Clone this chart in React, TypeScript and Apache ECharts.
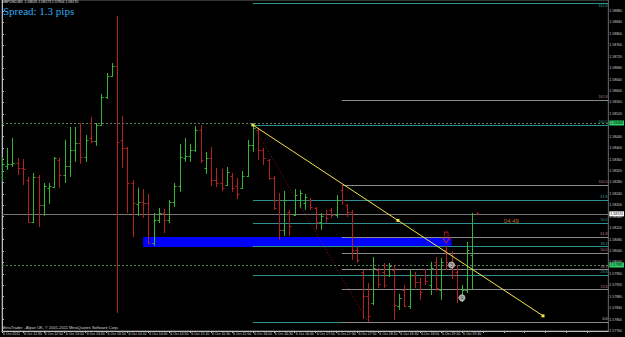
import React, { useEffect, useRef } from "react";
import * as echarts from "echarts";

// ---- data ----
const headerText = "GBPUSD,M5  1.58026 1.58173 1.57904 1.58170";
const spreadText = "Spread: 1.3 pips";
const copyrightText = "MetaTrader - Alpari UK, \u00a9 2001-2011 MetaQuotes Software Corp.";

// one label every 4 bars (M5 -> 20 minutes)
const timeLabels = [
  "6 Oct 2011", "6 Oct 12:30", "6 Oct 12:50", "6 Oct 13:10", "6 Oct 13:30", "6 Oct 13:50",
  "6 Oct 14:10", "6 Oct 14:30", "6 Oct 14:50", "6 Oct 15:10", "6 Oct 15:30", "6 Oct 15:50",
  "6 Oct 16:10", "6 Oct 16:30", "6 Oct 16:50", "6 Oct 17:10", "6 Oct 17:30", "6 Oct 17:50",
  "6 Oct 18:10", "6 Oct 18:30", "6 Oct 18:50", "6 Oct 19:10", "6 Oct 19:30",
];

const opens = [
  1.58306, 1.58338, 1.58345, 1.58348, 1.58331, 1.58289, 1.58142, 1.58299, 1.58201, 1.58261,
  1.58264, 1.58359, 1.58306, 1.58338, 1.58394, 1.58418, 1.58369, 1.58436, 1.58425, 1.58481,
  1.58579, 1.58653, 1.58688, 1.58429, 1.58401, 1.58278, 1.58205, 1.58212, 1.58208, 1.58068,
  1.58149, 1.58173, 1.58149, 1.58212, 1.58268, 1.58366, 1.58373, 1.58394, 1.58464, 1.58331,
  1.58366, 1.58289, 1.58278, 1.58271, 1.58303, 1.58268, 1.58261, 1.58303, 1.58411, 1.58464,
  1.58394, 1.58359, 1.58296, 1.58219, 1.58114, 1.58177, 1.58166, 1.58219, 1.58208, 1.58219,
  1.58191, 1.58142, 1.58170, 1.58184, 1.58166, 1.58254, 1.58201, 1.58177, 1.58044, 1.57967,
  1.57883, 1.57858, 1.57974, 1.57967, 1.57956, 1.57974, 1.57848, 1.57904, 1.57848, 1.57956,
  1.57932, 1.57956, 1.57921, 1.58002, 1.57904, 1.58044, 1.58002, 1.57967, 1.57869, 1.57904,
  1.58026,
];
const highs = [
  1.58369, 1.58401, 1.58436, 1.58366, 1.58362, 1.58299, 1.58313, 1.58306, 1.58278, 1.58278,
  1.58369, 1.58366, 1.58429, 1.58474, 1.58474, 1.58488, 1.58446, 1.58509, 1.58488, 1.58590,
  1.58663, 1.58698, 1.58863, 1.58513, 1.58404, 1.58289, 1.58261, 1.58257, 1.58240, 1.58173,
  1.58191, 1.58187, 1.58219, 1.58278, 1.58415, 1.58436, 1.58415, 1.58478, 1.58481, 1.58387,
  1.58404, 1.58331, 1.58327, 1.58334, 1.58313, 1.58296, 1.58320, 1.58429, 1.58481, 1.58471,
  1.58401, 1.58362, 1.58303, 1.58243, 1.58250, 1.58184, 1.58257, 1.58254, 1.58240, 1.58226,
  1.58194, 1.58173, 1.58184, 1.58191, 1.58236, 1.58271, 1.58205, 1.58184, 1.58054, 1.57974,
  1.57928, 1.58019, 1.57981, 1.57998, 1.57998, 1.57988, 1.57890, 1.57921, 1.57977, 1.57967,
  1.57946, 1.57977, 1.58002, 1.58019, 1.58016, 1.58058, 1.58040, 1.57991, 1.57921, 1.58072,
  1.58173,
];
const lows = [
  1.58282, 1.58324, 1.58334, 1.58306, 1.58271, 1.58138, 1.58138, 1.58124, 1.58163, 1.58205,
  1.58261, 1.58261, 1.58278, 1.58299, 1.58352, 1.58345, 1.58352, 1.58418, 1.58408, 1.58478,
  1.58572, 1.58649, 1.57823, 1.58331, 1.58173, 1.58089, 1.58163, 1.58156, 1.58065, 1.58058,
  1.58138, 1.58103, 1.58138, 1.58194, 1.58247, 1.58352, 1.58352, 1.58387, 1.58348, 1.58310,
  1.58268, 1.58264, 1.58250, 1.58268, 1.58247, 1.58222, 1.58257, 1.58299, 1.58387, 1.58359,
  1.58341, 1.58289, 1.58184, 1.58079, 1.58093, 1.58093, 1.58163, 1.58191, 1.58184, 1.58184,
  1.58114, 1.58114, 1.58138, 1.58156, 1.58156, 1.58201, 1.58159, 1.58009, 1.57998, 1.57802,
  1.57792, 1.57851, 1.57911, 1.57911, 1.57949, 1.57799, 1.57834, 1.57844, 1.57837, 1.57911,
  1.57869, 1.57921, 1.57886, 1.57900, 1.57869, 1.57974, 1.57942, 1.57858, 1.57862, 1.57893,
  1.57904,
];
const closes = [
  1.58345, 1.58345, 1.58348, 1.58331, 1.58327, 1.58142, 1.58299, 1.58201, 1.58268, 1.58268,
  1.58366, 1.58306, 1.58338, 1.58394, 1.58418, 1.58369, 1.58429, 1.58425, 1.58481, 1.58579,
  1.58653, 1.58688, 1.58422, 1.58401, 1.58278, 1.58208, 1.58212, 1.58208, 1.58068, 1.58149,
  1.58173, 1.58149, 1.58212, 1.58268, 1.58369, 1.58373, 1.58394, 1.58464, 1.58359, 1.58366,
  1.58289, 1.58278, 1.58261, 1.58317, 1.58261, 1.58240, 1.58303, 1.58411, 1.58471, 1.58394,
  1.58366, 1.58296, 1.58191, 1.58114, 1.58219, 1.58128, 1.58236, 1.58243, 1.58229, 1.58194,
  1.58142, 1.58163, 1.58156, 1.58166, 1.58219, 1.58219, 1.58177, 1.58044, 1.58009, 1.57883,
  1.57813, 1.57981, 1.57925, 1.57921, 1.57988, 1.57851, 1.57876, 1.57848, 1.57956, 1.57932,
  1.57897, 1.57935, 1.57981, 1.57911, 1.58002, 1.58002, 1.57956, 1.57879, 1.57904, 1.58044,
  1.58170,
];

const fibLevels = [0, 23.6, 38.2, 50, 61.8, 100, 161.8];
const fibMainAnchor = [48, 1.58481, 1.57792]; // bar, high, low
const fibSecondAnchor = [65, 1.58271, 1.57792];
const fibConnector = [[48, 1.58481], [70, 1.57792]];
const trendLine = [[48, 1.58481], [75.75, 1.58147], [103.5, 1.57813]];
const zoneRect = [[27, 1.58089], [86, 1.58054]];
const bidPrice = 1.5817;
const orderLevels = [1.58488, 1.57991];
const sellArrow = [[85, 1.58087]];
const tradeMarks = [[86, 1.57991, "3"], [88, 1.57876, "4"]];
const timerMark = [[96, 1.58145, "04:49"]];
const lastTick = [[91, 1.58173]];

// ---- styling ----
const UP = "#35b535";
const DOWN = "#b52020";
const TEAL = "#2f8f8f";
const GREYFIB = "#8a8a8a";
const X_MAX = 116;
const FONT = "Liberation Sans";

function fibMarkLines(anchor: number[], lineColor: string, labelColor: string) {
  const [bar, hi, lo] = anchor;
  return fibLevels.map((lv) => {
    const p = lo + ((hi - lo) * lv) / 100;
    const nearTop = p > 1.5888;
    return [
      {
        coord: [bar, p],
        lineStyle: { color: lineColor, width: 1, type: "solid" },
        label: {
          show: true,
          position: nearTop ? "insideEndBottom" : "insideEndTop",
          formatter: lv.toFixed(1),
          color: labelColor,
          fontSize: 3.5,
          fontFamily: FONT,
          distance: 1,
        },
      },
      { coord: [X_MAX, p] },
    ];
  });
}

function fullLine(p: number, color: string, type: any, boxColor: string) {
  return [
    {
      coord: [0, p],
      lineStyle: { color, width: 1, type },
      label: {
        show: true,
        position: "end",
        distance: 1,
        formatter: p.toFixed(5),
        backgroundColor: boxColor,
        color: "#000",
        fontSize: 3.5,
        fontFamily: FONT,
        padding: [0.5, 1],
      },
    },
    { coord: [X_MAX, p] },
  ];
}

// the price boxes on the axis cover the tick label that sits under them
const boxPrices = [...orderLevels, bidPrice];
function priceLabel(v: number) {
  const covered = boxPrices.some((b) => Math.abs(b - v) < 0.00009);
  return covered ? "" : v.toFixed(5);
}

function renderBar(params: any, api: any) {
  const x = api.value(0);
  const o = api.value(1);
  const h = api.value(2);
  const l = api.value(3);
  const c = api.value(4);
  const ph = api.coord([x, h]);
  const pl = api.coord([x, l]);
  const po = api.coord([x, o]);
  const pc = api.coord([x, c]);
  const color = c >= o ? UP : DOWN;
  const cx = Math.round(ph[0]) + 0.5;
  const oy = Math.round(po[1]) + 0.5;
  const cy = Math.round(pc[1]) + 0.5;
  const st = { stroke: color, lineWidth: 1 };
  return {
    type: "group",
    children: [
      { type: "line", shape: { x1: cx, y1: ph[1], x2: cx, y2: pl[1] }, style: st },
      { type: "line", shape: { x1: cx - 2, y1: oy, x2: cx, y2: oy }, style: st },
      { type: "line", shape: { x1: cx, y1: cy, x2: cx + 2, y2: cy }, style: st },
    ],
  };
}

export default function App() {
  const ref = useRef<HTMLDivElement>(null);

  useEffect(() => {
    document.body.style.margin = "0";
    const chart = echarts.init(ref.current!, null, { renderer: "svg" });

    const bars = opens.map((o, i) => [i, o, highs[i], lows[i], closes[i]]);

    const option: any = {
      animation: false,
      backgroundColor: "#000000",
      textStyle: { fontFamily: FONT },
      grid: {
        left: 0,
        right: 13,
        top: 0,
        bottom: 6,
        show: true,
        borderColor: "#6a6a6a",
        borderWidth: 1,
      },
      xAxis: {
        type: "value",
        min: 0,
        max: X_MAX,
        interval: 4,
        position: "bottom",
        axisLine: { show: true, lineStyle: { color: "#bdbdbd", width: 1 } },
        axisTick: { show: true, length: 2, lineStyle: { color: "#bdbdbd" } },
        splitLine: { show: false },
        axisLabel: {
          color: "#d8d8d8",
          fontSize: 3.5,
          fontFamily: FONT,
          align: "left",
          margin: 1,
          padding: [0, 0, 0, 1],
          showMaxLabel: false,
          formatter: (v: number) => {
            const k = v / 4;
            return Number.isInteger(k) && k < timeLabels.length ? timeLabels[k] : "";
          },
        },
      },
      yAxis: {
        type: "value",
        position: "right",
        min: 1.5776,
        max: 1.589185,
        interval: 0.0004,
        axisLine: { show: true, lineStyle: { color: "#bdbdbd", width: 1 } },
        axisTick: { show: true, length: 2, lineStyle: { color: "#bdbdbd" } },
        splitLine: { show: false },
        axisLabel: {
          color: "#cfcfcf",
          fontSize: 3.5,
          fontFamily: FONT,
          margin: 1,
          showMaxLabel: false,
          formatter: priceLabel,
        },
      },
      graphic: [
        {
          type: "text",
          left: 2,
          top: 0,
          z: 100,
          style: { text: headerText, fill: "#e0e0e0", fontSize: 3.5, fontFamily: FONT },
        },
        {
          type: "text",
          left: 3,
          top: 5,
          z: 100,
          style: {
            text: spreadText,
            fill: "#35a9ee",
            fontSize: 11,
            fontWeight: "normal",
            fontFamily: "Times New Roman, Liberation Serif, serif",
          },
        },
        {
          type: "text",
          left: 2,
          top: 325,
          z: 100,
          style: { text: copyrightText, fill: "#d8d8d8", fontSize: 4, fontFamily: FONT },
        },
      ],
      series: [
        {
          name: "zone",
          type: "line",
          data: zoneRect,
          showSymbol: false,
          lineStyle: { opacity: 0 },
          silent: true,
          z: 1,
          markArea: {
            silent: true,
            itemStyle: { color: "#0000ff", opacity: 1 },
            data: [[{ coord: zoneRect[0] }, { coord: zoneRect[1] }]],
          },
        },
        {
          name: "levels",
          type: "line",
          data: [],
          silent: true,
          z: 2,
          markLine: {
            silent: true,
            symbol: ["none", "none"],
            data: [
              ...fibMarkLines(fibMainAnchor, TEAL, "#3aa0a0"),
              ...fibMarkLines(fibSecondAnchor, GREYFIB, "#b08c8c"),
              ...orderLevels.map((p) => fullLine(p, "#5d835d", [2, 2], "#2fd46a")),
              fullLine(bidPrice, "#767676", "solid", "#ffffff"),
            ],
          },
        },
        {
          name: "fibLine",
          type: "line",
          data: fibConnector,
          showSymbol: false,
          silent: true,
          z: 3,
          lineStyle: { color: "#8c1c1c", width: 1, type: [1, 2] },
        },
        {
          name: "bars",
          type: "custom",
          renderItem: renderBar,
          data: bars,
          encode: { x: 0, y: [1, 2, 3, 4] },
          clip: true,
          z: 5,
        },
        {
          name: "trend",
          type: "line",
          data: trendLine,
          symbol: "rect",
          symbolSize: 3,
          showSymbol: true,
          silent: true,
          z: 6,
          lineStyle: { color: "#f5e44c", width: 1 },
          itemStyle: { color: "#f5e44c" },
        },
        {
          name: "sell",
          type: "scatter",
          data: sellArrow,
          symbol: "path://M2,0 L6,0 L6,6 L8,6 L4,11 L0,6 L2,6 Z",
          symbolSize: [7, 11],
          silent: true,
          z: 7,
          itemStyle: { color: "rgba(0,0,0,0)", borderColor: "#d42020", borderWidth: 1 },
        },
        {
          name: "trades",
          type: "scatter",
          data: tradeMarks,
          symbol: "circle",
          symbolSize: 7,
          silent: true,
          z: 7,
          itemStyle: { color: "#cfcfcf" },
          label: {
            show: true,
            position: "inside",
            formatter: (p: any) => p.value[2],
            color: "#555",
            fontSize: 5,
            fontWeight: "bold",
            fontFamily: FONT,
          },
        },
        {
          name: "timer",
          type: "scatter",
          data: timerMark,
          symbolSize: 0,
          silent: true,
          z: 7,
          label: {
            show: true,
            position: "right",
            distance: 0,
            formatter: (p: any) => p.value[2],
            color: "#e88a2c",
            fontSize: 6,
            fontFamily: FONT,
          },
        },
        {
          name: "tick",
          type: "scatter",
          data: lastTick,
          symbol: "triangle",
          symbolSize: 3,
          silent: true,
          z: 7,
          itemStyle: { color: "#d42020" },
        },
      ],
    };

    chart.setOption(option);
    return () => chart.dispose();
  }, []);

  return (
    <div
      ref={ref}
      style={{ position: "absolute", left: 0, top: 0, width: 625, height: 337, background: "#000" }}
    />
  );
}
